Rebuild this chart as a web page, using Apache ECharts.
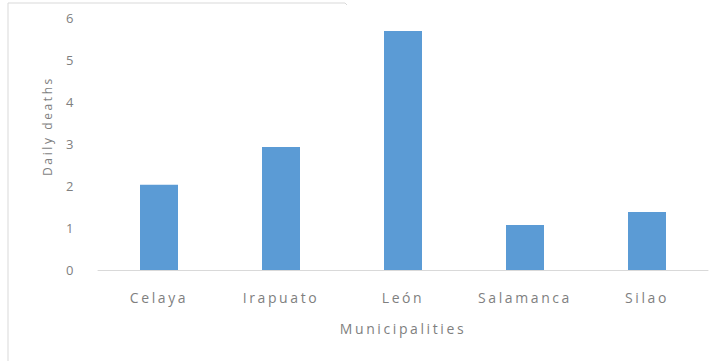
<!DOCTYPE html>
<html>
<head>
<meta charset="utf-8">
<script src="https://cdn.jsdelivr.net/npm/echarts@6/dist/echarts.min.js"></script>
<style>
  html, body { margin: 0; padding: 0; background: #fff; }
  #chart { width: 723px; height: 361px; }
  /* widely tracked labels */
  #chart svg text { letter-spacing: 2.6px; }
</style>
</head>
<body>
<div id="chart"></div>
<script>
// Daily deaths by municipality
const municipalities = ['Celaya', 'Irapuato', 'León', 'Salamanca', 'Silao'];
const dailyDeaths = [2.03, 2.93, 5.69, 1.07, 1.38];
const yTicks = [0, 1, 2, 3, 4, 5, 6];

const textColor = '#7f7f7f';
const fontFamily = '"Open Sans", "Liberation Sans", sans-serif';

const chart = echarts.init(document.getElementById('chart'), null, { renderer: 'svg' });

chart.setOption({
  animation: false,
  backgroundColor: '#ffffff',
  grid: { left: 98, right: 15, top: 18, bottom: 91, containLabel: false },
  xAxis: {
    type: 'category',
    data: municipalities,
    name: 'Municipalities',
    nameLocation: 'middle',
    nameGap: 51,
    nameTextStyle: { color: textColor, fontSize: 14, fontFamily },
    axisLine: { lineStyle: { color: '#d9d9d9', width: 1 } },
    axisTick: { show: false },
    axisLabel: { color: textColor, fontSize: 14, fontFamily, margin: 20 }
  },
  yAxis: {
    type: 'value',
    min: yTicks[0],
    max: yTicks[yTicks.length - 1],
    interval: 1,
    axisLine: { show: false },
    axisTick: { show: false },
    splitLine: { show: false },
    axisLabel: { color: textColor, fontSize: 13, fontFamily, margin: 22 }
  },
  series: [{
    type: 'bar',
    data: dailyDeaths,
    barWidth: 38,
    itemStyle: { color: '#5b9bd5' }
  }],
  graphic: [
    {
      type: 'text',
      x: 47, y: 126, rotation: Math.PI / 2,
      style: {
        text: 'Daily deaths', fill: textColor, fontSize: 12, fontFamily,
        align: 'center', verticalAlign: 'middle'
      }
    },
    {
      type: 'polyline',
      shape: { points: [[8, 361], [8, 3], [345, 3], [347, 5]] },
      style: { stroke: '#d9d9d9', lineWidth: 1, fill: null }
    }
  ]
});
</script>
</body>
</html>
